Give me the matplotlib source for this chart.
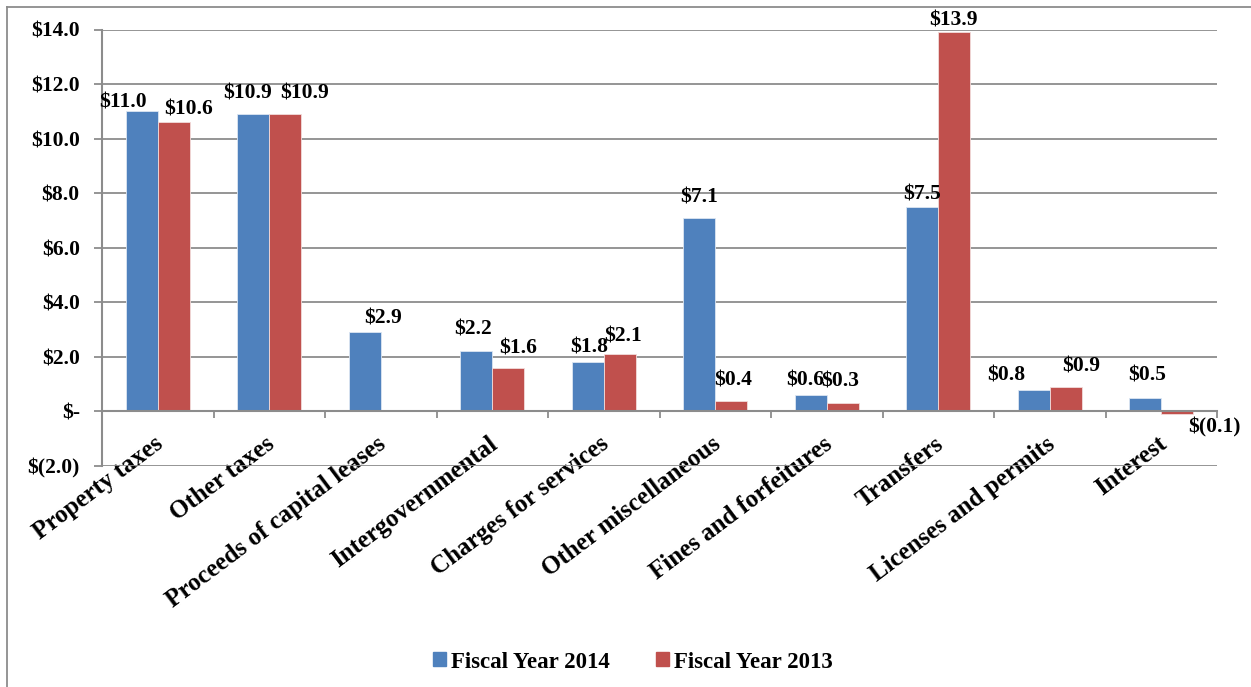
import matplotlib
matplotlib.use("Agg")
import matplotlib.pyplot as plt
import matplotlib.transforms as mtransforms
import numpy as np
from matplotlib.lines import Line2D

categories = ["Property taxes", "Other taxes", "Proceeds of capital leases",
              "Intergovernmental", "Charges for services", "Other miscellaneous",
              "Fines and forfeitures", "Transfers", "Licenses and permits", "Interest"]
fy2014 = [11.0, 10.9, 2.9, 2.2, 1.8, 7.1, 0.6, 7.5, 0.8, 0.5]
fy2013 = [10.6, 10.9, None, 1.6, 2.1, 0.4, 0.3, 13.9, 0.9, -0.1]
labels2014 = ["$11.0", "$10.9", "$2.9", "$2.2", "$1.8", "$7.1", "$0.6", "$7.5", "$0.8", "$0.5"]
labels2013 = ["$10.6", "$10.9", None, "$1.6", "$2.1", "$0.4", "$0.3", "$13.9", "$0.9", "$(0.1)"]
yticks = [-2, 0, 2, 4, 6, 8, 10, 12, 14]
ytick_labels = ["$(2.0)", "$-", "$2.0", "$4.0", "$6.0", "$8.0", "$10.0", "$12.0", "$14.0"]

BLUE = "#4F81BD"
RED = "#C0504D"
GRID = "#8C8C8C"
FONT = "Liberation Serif"

plt.rcParams['font.family'] = [FONT, 'DejaVu Serif']
plt.rcParams['font.weight'] = 'bold'

W, H = 1251, 687
fig = plt.figure(figsize=(W / 100, H / 100), dpi=100)
ax = fig.add_axes([102 / W, 1 - 466 / H, (1217 - 102) / W, (466 - 29.5) / H])

n = len(categories)
x = np.arange(n)
bw = 0.286
v13 = [np.nan if v is None else v for v in fy2013]
ax.bar(x - bw / 2, fy2014, bw, color=BLUE, edgecolor="#DCE6F2", linewidth=0.6, zorder=3)
ax.bar(x + bw / 2, v13, bw, color=RED, edgecolor="#F2DCDB", linewidth=0.6, zorder=3)

ax.set_xlim(-0.5, n - 0.5)
ax.set_ylim(-2, 14)
ax.set_yticks(yticks)
ax.set_yticklabels(ytick_labels, fontsize=15.5, fontweight='bold')
ax.yaxis.grid(True, color=GRID, linewidth=1.3, zorder=0)
ax.set_axisbelow(True)

for s in ["top", "right"]:
    ax.spines[s].set_visible(False)
ax.spines["bottom"].set_position(("data", 0))
ax.spines["bottom"].set_color(GRID)
ax.spines["bottom"].set_linewidth(1.5)
ax.spines["bottom"].set_zorder(4)
ax.spines["left"].set_color(GRID)
ax.spines["left"].set_linewidth(1.5)
ax.tick_params(axis="y", length=6, width=1.3, color=GRID, pad=10)

# category boundary ticks (major) and labels at centers (minor)
ax.set_xticks(np.arange(n + 1) - 0.5)
ax.set_xticklabels([""] * (n + 1))
ax.tick_params(axis="x", which="major", length=5, width=1.3, color=GRID, direction="out")
ax.set_xticks(x, minor=True)
ax.set_xticklabels(categories, minor=True, rotation=37, ha="right",
                   rotation_mode="anchor", fontsize=18, fontweight='bold')
ax.tick_params(axis="x", which="minor", length=0, pad=15)
shift = mtransforms.ScaledTranslation(-4 / 100, 0, fig.dpi_scale_trans)
for lbl in ax.get_xticklabels(minor=True):
    lbl.set_transform(lbl.get_transform() + shift)

# data label offsets in pixels (dx, dy)
off14 = [(-19, 9), (-6, 21), (18, 14), (-3, 22), (1, 15), (0, 20), (-6, 15), (0, 12), (-28, 14), (2, 22)]
off13 = [(15, 13), (19, 21), None, (10, 19), (3, 18), (2, 20), (-3, 22), (-1, 12), (15, 20), (37, -13)]
for i in range(n):
    dx, dy = off14[i]
    ax.annotate(labels2014[i], (x[i] - bw / 2, fy2014[i]), xytext=(dx * 0.72, dy * 0.72),
                textcoords="offset points", ha="center", va="center",
                fontsize=15.5, fontweight='bold', zorder=5)
    if labels2013[i] is not None:
        dx, dy = off13[i]
        ax.annotate(labels2013[i], (x[i] + bw / 2, fy2013[i]),
                    xytext=(dx * 0.72, dy * 0.72),
                    textcoords="offset points", ha="center", va="center",
                    fontsize=15.5, fontweight='bold', zorder=5, annotation_clip=False)

# legend
handles = [plt.Rectangle((0, 0), 1, 1, color=BLUE), plt.Rectangle((0, 0), 1, 1, color=RED)]
fig.legend(handles, ["Fiscal Year 2014", "Fiscal Year 2013"], loc="center",
           bbox_to_anchor=(633 / W, 1 - 662 / H), ncol=2, frameon=False,
           prop={'family': FONT, 'weight': 'bold', 'size': 16.5},
           handlelength=0.55, handleheight=0.55, handletextpad=0.25, columnspacing=2.0)

# outer chart border (top and left visible)
fig.add_artist(Line2D([7 / W, 1.0], [1 - 6.5 / H, 1 - 6.5 / H], color="#8C8C8C", linewidth=1.3,
                      transform=fig.transFigure))
fig.add_artist(Line2D([7 / W, 7 / W], [0, 1 - 6.5 / H], color="#8C8C8C", linewidth=1.3,
                      transform=fig.transFigure))

fig.savefig("out.png", dpi=100)
